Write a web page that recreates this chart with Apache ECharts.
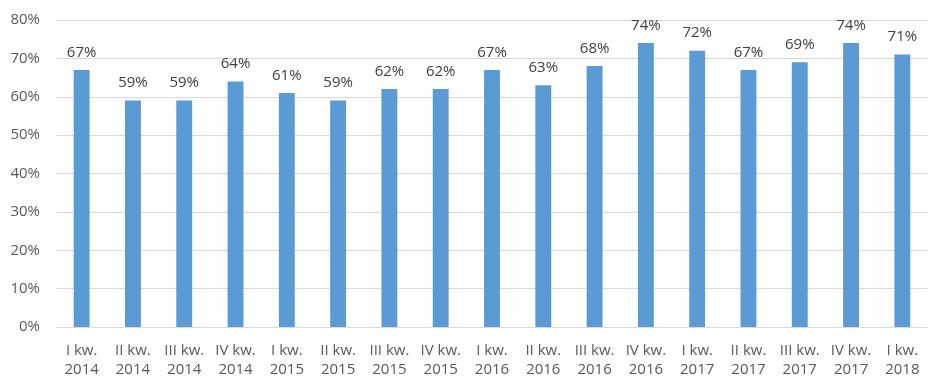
<!DOCTYPE html>
<html><head><meta charset="utf-8">
<script src="https://cdn.jsdelivr.net/npm/echarts@6/dist/echarts.min.js"></script>
<style>html,body{margin:0;padding:0;background:#fff}#c{width:945px;height:389px}</style>
</head><body><div id="c"></div>
<script>
const categories = ["I kw.\n2014","II kw.\n2014","III kw.\n2014","IV kw.\n2014","I kw.\n2015","II kw.\n2015","III kw.\n2015","IV kw.\n2015","I kw.\n2016","II kw.\n2016","III kw.\n2016","IV kw.\n2016","I kw.\n2017","II kw.\n2017","III kw.\n2017","IV kw.\n2017","I kw.\n2018"];
const values = [67,59,59,64,61,59,62,62,67,63,68,74,72,67,69,74,71];
const yTicks = [0,10,20,30,40,50,60,70,80];
const font = "'Open Sans', 'Noto Sans', sans-serif";
const chart = echarts.init(document.getElementById('c'), null, {renderer:'canvas'});
chart.setOption({
  animation:false,
  grid:{left:56,right:17,top:20,bottom:62},
  xAxis:{type:'category',data:categories,
    axisLine:{lineStyle:{color:'#d9d9d9'}},axisTick:{show:false},
    axisLabel:{color:'#595959',fontSize:15,fontFamily:font,lineHeight:19,margin:14,interval:0}},
  yAxis:{type:'value',min:yTicks[0],max:yTicks[yTicks.length-1],interval:10,
    axisLine:{show:false},axisTick:{show:false},
    splitLine:{lineStyle:{color:'#d9d9d9'}},
    axisLabel:{color:'#595959',fontSize:15,fontFamily:font,formatter:'{value}%',margin:16}},
  series:[{type:'bar',data:values,barWidth:'31%',itemStyle:{color:'#5B9BD5'},
    label:{show:true,position:'top',formatter:'{c}%',color:'#404040',fontSize:15,fontFamily:font,distance:10}}]
});
</script></body></html>
